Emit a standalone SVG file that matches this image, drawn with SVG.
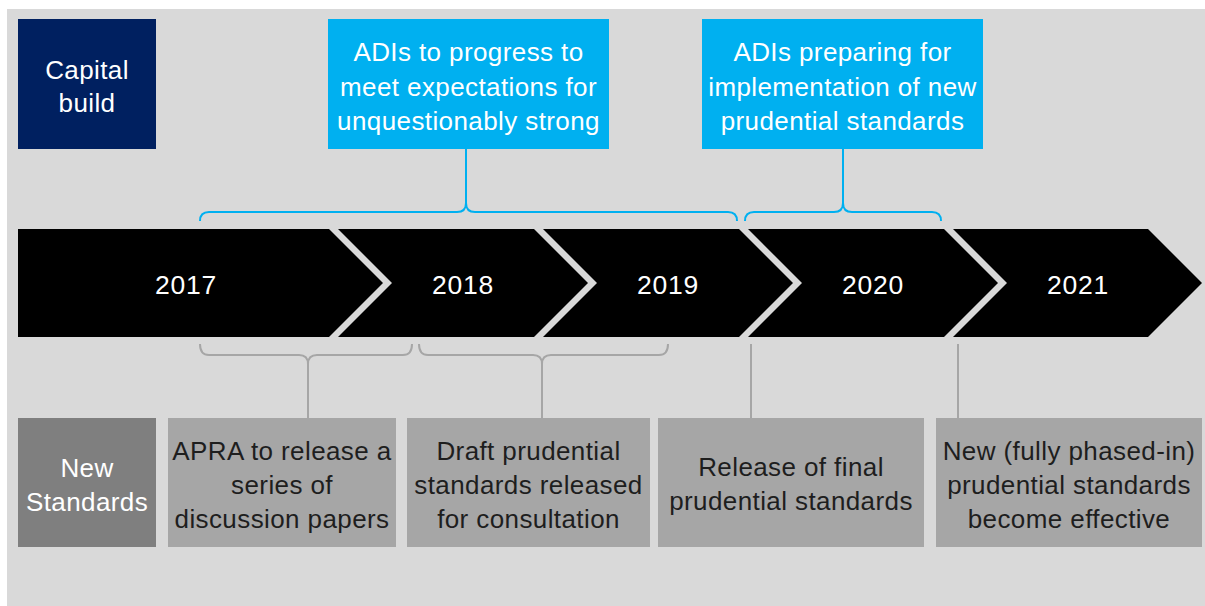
<svg xmlns="http://www.w3.org/2000/svg" width="1205" height="606" viewBox="0 0 1205 606">
<style>
text{font-family:"Liberation Sans",Arial,sans-serif;font-size:26px;text-anchor:middle;letter-spacing:0.4px}
.yr{font-size:26.5px;letter-spacing:0.8px}
.w{fill:#ffffff}
.d{fill:#1e1e1e}
.chev{fill:#000000}
.blue{fill:#00b0f0}
.grey{fill:#a6a6a6}
.bl{fill:none;stroke:#00b0f0;stroke-width:2}
.gl{fill:none;stroke:#a6a6a6;stroke-width:2}
</style>
<rect x="0" y="0" width="1205" height="606" fill="#ffffff"/>
<rect x="7" y="9" width="1198" height="597" fill="#d9d9d9"/>

<g id="capital-build">
<rect x="18" y="19" width="138" height="130" fill="#002060"/>
<text class="w" x="87" y="79">Capital</text>
<text class="w" x="87" y="112">build</text>
</g>
<g id="adis-progress">
<rect class="blue" x="328" y="19" width="281" height="130"/>
<text class="w" x="468.5" y="61">ADIs to progress to</text>
<text class="w" x="468.5" y="95.5">meet expectations for</text>
<text class="w" x="468.5" y="130">unquestionably strong</text>
</g>
<g id="adis-preparing">
<rect class="blue" x="702" y="19" width="281" height="130"/>
<text class="w" x="842.5" y="61">ADIs preparing for</text>
<text class="w" x="842.5" y="95.5">implementation of new</text>
<text class="w" x="842.5" y="130">prudential standards</text>
</g>

<g id="y2017">
<polygon class="chev" points="18,229 329,229 383,283 329,337 18,337"/>
<text class="w yr" x="186" y="294">2017</text>
</g>
<g id="y2018">
<polygon class="chev" points="338,229 534,229 588,283 534,337 338,337 392,283"/>
<text class="w yr" x="463" y="294">2018</text>
</g>
<g id="y2019">
<polygon class="chev" points="543,229 739,229 793,283 739,337 543,337 597,283"/>
<text class="w yr" x="668" y="294">2019</text>
</g>
<g id="y2020">
<polygon class="chev" points="748,229 944,229 998,283 944,337 748,337 802,283"/>
<text class="w yr" x="873" y="294">2020</text>
</g>
<g id="y2021">
<polygon class="chev" points="953,229 1148,229 1202,283 1148,337 953,337 1007,283"/>
<text class="w yr" x="1078" y="294">2021</text>
</g>

<g id="new-standards">
<rect x="18" y="418" width="138" height="129" fill="#7f7f7f"/>
<text class="w" x="87" y="477">New</text>
<text class="w" x="87" y="511">Standards</text>
</g>
<g id="apra-release">
<rect class="grey" x="168" y="418" width="228" height="129"/>
<text class="d" x="282" y="460">APRA to release a</text>
<text class="d" x="282" y="494">series of</text>
<text class="d" x="282" y="528">discussion papers</text>
</g>
<g id="draft-standards">
<rect class="grey" x="407" y="418" width="243" height="129"/>
<text class="d" x="528.5" y="460">Draft prudential</text>
<text class="d" x="528.5" y="494">standards released</text>
<text class="d" x="528.5" y="528">for consultation</text>
</g>
<g id="final-standards">
<rect class="grey" x="658" y="418" width="266" height="129"/>
<text class="d" x="791" y="476">Release of final</text>
<text class="d" x="791" y="510">prudential standards</text>
</g>
<g id="effective-standards">
<rect class="grey" x="936" y="418" width="266" height="129"/>
<text class="d" x="1069" y="460">New (fully phased-in)</text>
<text class="d" x="1069" y="494">prudential standards</text>
<text class="d" x="1069" y="528">become effective</text>
</g>

<g id="connectors">
<path class="bl" d="M466,149 V203"/>
<path class="bl" d="M200,221 Q200,212 209,212 H457 Q466,212 466,203 Q466,212 475,212 H728 Q737,212 737,221"/>
<path class="bl" d="M843,149 V203"/>
<path class="bl" d="M745,221 Q745,212 754,212 H834 Q843,212 843,203 Q843,212 852,212 H932 Q941,212 941,221"/>
<path class="gl" d="M200,344 Q200,355 209,355 H299 Q308,355 308,364 Q308,355 317,355 H403 Q412,355 412,344"/>
<path class="gl" d="M308,364 V418"/>
<path class="gl" d="M419,344 Q419,355 428,355 H533 Q542,355 542,364 Q542,355 551,355 H659 Q668,355 668,344"/>
<path class="gl" d="M542,364 V418"/>
<path class="gl" d="M751,344 V418"/>
<path class="gl" d="M958,344 V418"/>
</g>
</svg>
